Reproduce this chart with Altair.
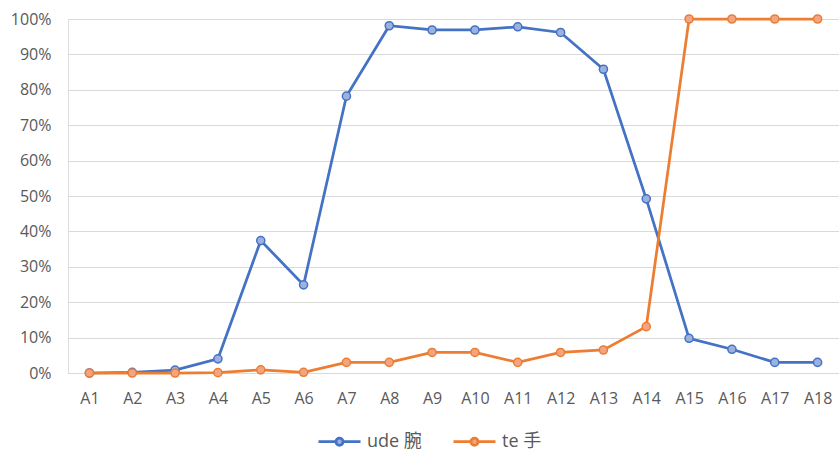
import altair as alt
import pandas as pd

categories = [f"A{i}" for i in range(1, 19)]
ude = [0.0, 0.002, 0.008, 0.040, 0.374, 0.249, 0.782, 0.981, 0.969, 0.969,
       0.978, 0.962, 0.858, 0.492, 0.098, 0.067, 0.030, 0.030]
te = [0.0, 0.0, 0.0, 0.001, 0.009, 0.002, 0.030, 0.030, 0.058, 0.058,
      0.030, 0.058, 0.065, 0.131, 1.0, 1.0, 1.0, 1.0]
series_names = ["ude 腕", "te 手"]

rows = []
for name, vals in zip(series_names, [ude, te]):
    for cat, v in zip(categories, vals):
        rows.append({"cat": cat, "value": v, "series": name})
df = pd.DataFrame(rows)

FONT = "Open Sans, Noto Sans CJK JP"
line_colors = ["#4472C4", "#ED7D31"]
fill_colors = ["#9DB1DE", "#F2A584"]

x_enc = alt.X("cat:N", sort=categories, title=None,
              scale=alt.Scale(type="point", padding=0.5),
              axis=alt.Axis(labelAngle=0, ticks=False, domain=False, grid=False,
                            labelPadding=17, labelFontSize=16, labelColor="#595959",
                            labelFont=FONT))
y_enc = alt.Y("value:Q", title=None,
              scale=alt.Scale(domain=[0, 1], nice=False),
              axis=alt.Axis(format=".0%", values=[i / 10 for i in range(11)],
                            ticks=False, domain=False, gridColor="#D9D9D9",
                            gridWidth=1.2, labelPadding=17, labelFontSize=16,
                            labelColor="#595959", labelFont=FONT))

legend_symbol = ("M-1,0L-0.17,0M0.17,0L1,0"
                 "M0.17,0A0.17,0.17,0,1,1,-0.17,0A0.17,0.17,0,1,1,0.17,0Z")
legend = alt.Legend(orient="none", legendX=249, legendY=400,
                    direction="horizontal", title=None,
                    symbolType=legend_symbol, symbolSize=1764,
                    symbolStrokeWidth=2.75, labelFontSize=18,
                    labelColor="#595959", labelFont=FONT, columnPadding=26,
                    labelOffset=5)

lines = alt.Chart(df).mark_line(strokeWidth=2.75).encode(
    x=x_enc, y=y_enc,
    stroke=alt.Stroke("series:N", sort=series_names,
                      scale=alt.Scale(domain=series_names, range=line_colors),
                      legend=legend),
    detail="series:N",
)

points = alt.Chart(df).mark_point(size=66, strokeWidth=1.5, opacity=1).encode(
    x=x_enc, y=y_enc,
    stroke=alt.Stroke("series:N", sort=series_names,
                      scale=alt.Scale(domain=series_names, range=line_colors),
                      legend=legend),
    fill=alt.Fill("series:N", sort=series_names,
                  scale=alt.Scale(domain=series_names, range=fill_colors),
                  legend=legend),
)

chart = alt.layer(lines, points).properties(
    width=771, height=354,
    autosize=alt.AutoSizeParams(type="none"),
    padding={"left": 68, "top": 19, "right": 0, "bottom": 80},
).configure_view(stroke=None).configure(background="white")

chart.save("out.html", embed_options={"renderer": "svg", "actions": False})
